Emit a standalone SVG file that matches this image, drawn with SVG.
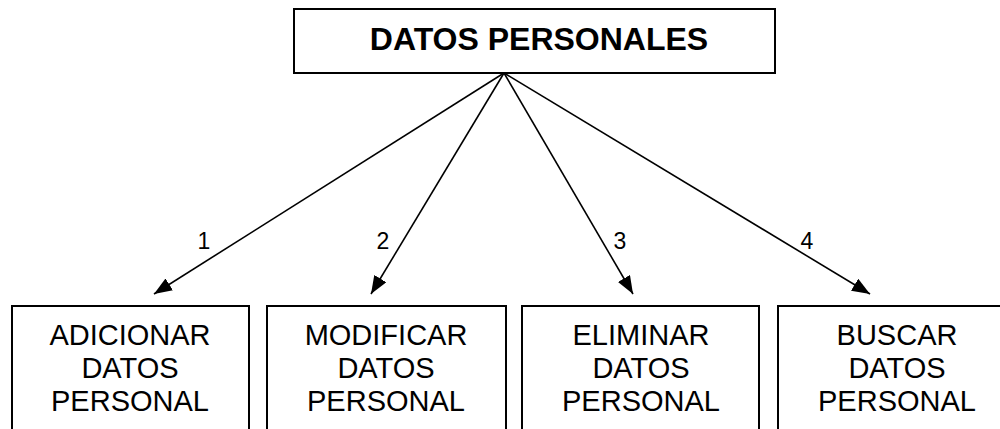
<svg xmlns="http://www.w3.org/2000/svg" width="1000" height="429" viewBox="0 0 1000 429">
<style>
.box{fill:#fff;stroke:#000;stroke-width:2}
.t{font-family:"Liberation Sans",Arial,sans-serif;font-size:29px;text-anchor:middle;fill:#000}
.title{font-family:"Liberation Sans",Arial,sans-serif;font-size:32px;font-weight:bold;text-anchor:middle;fill:#000}
.lbl{font-family:"Liberation Sans",Arial,sans-serif;font-size:23px;text-anchor:middle;fill:#000}
.c{stroke:#000;stroke-width:1.6;fill:none;marker-end:url(#ah)}
</style>
<defs>
<marker id="ah" viewBox="0 0 18 14" refX="18" refY="7" markerWidth="18" markerHeight="14" markerUnits="userSpaceOnUse" orient="auto">
<path d="M0,0 L18,7 L0,14 Z" fill="#000"/>
</marker>
</defs>
<rect width="1000" height="429" fill="#fff"/>
<g id="connectors">
<line class="c" x1="504" y1="73" x2="154" y2="294"/>
<line class="c" x1="504" y1="73" x2="371" y2="294"/>
<line class="c" x1="504" y1="73" x2="633" y2="294"/>
<line class="c" x1="504" y1="73" x2="870" y2="294"/>
<text class="lbl" x="204" y="249">1</text>
<text class="lbl" x="383" y="249">2</text>
<text class="lbl" x="620" y="249">3</text>
<text class="lbl" x="807" y="249">4</text>
</g>
<g id="datos-personales">
<rect class="box" x="294" y="9" width="481" height="64"/>
<text class="title" x="539" y="50">DATOS PERSONALES</text>
</g>
<g id="adicionar">
<rect class="box" x="12" y="306" width="237" height="140"/>
<text class="t" x="130" y="345">ADICIONAR</text>
<text class="t" x="130" y="378">DATOS</text>
<text class="t" x="130" y="411">PERSONAL</text>
</g>
<g id="modificar">
<rect class="box" x="267" y="306" width="239" height="140"/>
<text class="t" x="386" y="345">MODIFICAR</text>
<text class="t" x="386" y="378">DATOS</text>
<text class="t" x="386" y="411">PERSONAL</text>
</g>
<g id="eliminar">
<rect class="box" x="522" y="306" width="237" height="140"/>
<text class="t" x="641" y="345">ELIMINAR</text>
<text class="t" x="641" y="378">DATOS</text>
<text class="t" x="641" y="411">PERSONAL</text>
</g>
<g id="buscar">
<rect class="box" x="778" y="306" width="238" height="140"/>
<text class="t" x="897" y="345">BUSCAR</text>
<text class="t" x="897" y="378">DATOS</text>
<text class="t" x="897" y="411">PERSONAL</text>
</g>
</svg>
